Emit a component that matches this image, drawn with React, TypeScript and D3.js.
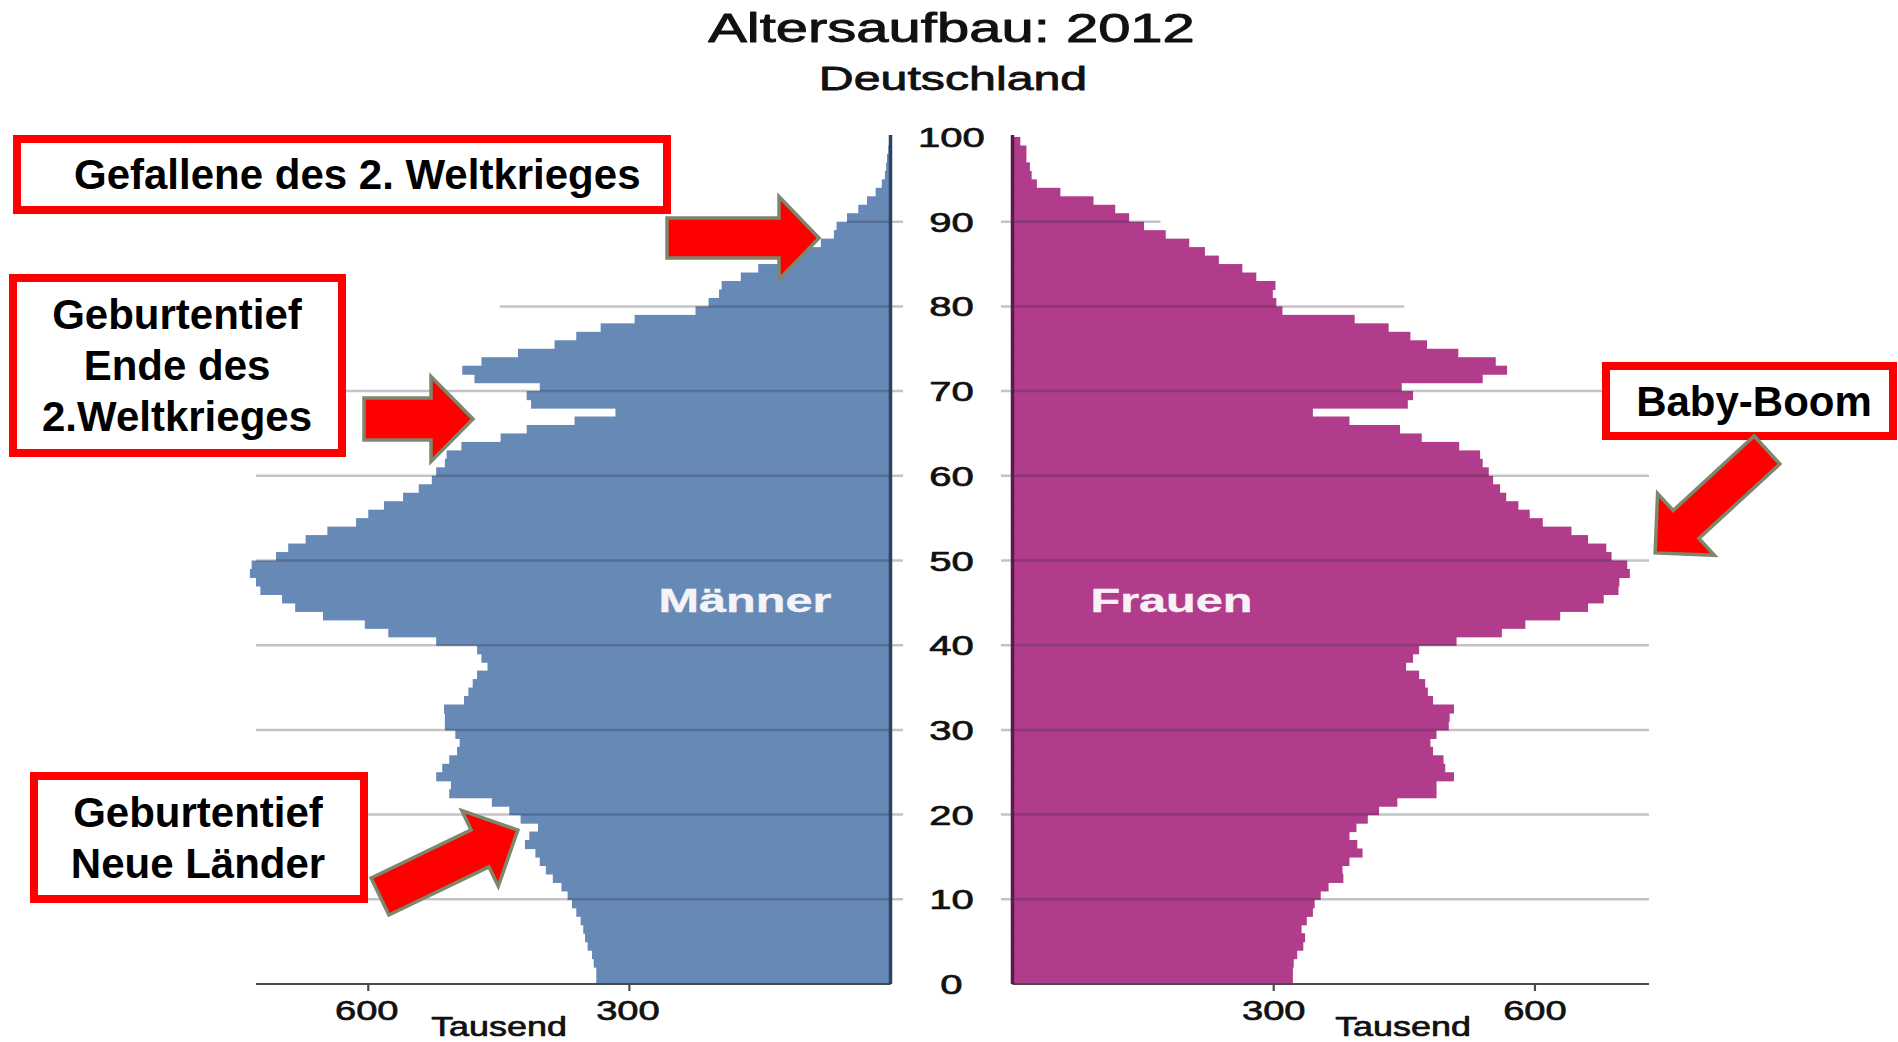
import React from 'react';
import * as d3 from 'd3';

// Altersaufbau 2012, Deutschland — Bevölkerung in Tausend nach Alter (0..99)
const AGES = d3.range(0, 100);
const MALE = [
  338, 338, 341, 343, 348, 351, 353, 356, 361, 366,
  371, 378, 388, 396, 403, 408, 420, 415, 405, 425,
  438, 458, 507, 505, 522, 515, 507, 498, 495, 500,
  512, 512, 513, 490, 485, 480, 475, 463, 470, 475,
  522, 577, 604, 652, 684, 699, 724, 729, 736, 734,
  706, 692, 672, 647, 614, 600, 582, 560, 542, 527,
  522, 512, 510, 493, 448, 418, 363, 316, 413, 418,
  403, 478, 492, 470, 428, 386, 361, 333, 294, 224,
  209, 197, 194, 172, 152, 129, 100, 80, 65, 62,
  50, 37, 27, 17, 10, 6.5, 5, 4, 2.5, 1.5,
];
const FEMALE = [
  322, 322, 323, 327, 334, 336, 332, 338, 345, 347,
  354, 363, 380, 379, 387, 402, 396, 387, 395, 408,
  421, 442, 487, 487, 507, 497, 495, 483, 480, 487,
  501, 502, 507, 483, 477, 474, 467, 452, 460, 467,
  510, 562, 589, 629, 661, 679, 696, 697, 709, 706,
  688, 682, 661, 642, 609, 594, 581, 567, 560, 552,
  547, 540, 537, 513, 470, 445, 387, 345, 454, 460,
  447, 540, 568, 555, 512, 476, 457, 432, 393, 310,
  303, 299, 302, 280, 264, 237, 221, 203, 176, 151,
  134, 118, 93, 55, 28, 22, 20, 16, 16, 9,
];
const AGE_LABELS = [0, 10, 20, 30, 40, 50, 60, 70, 80, 90, 100];
const VALUE_TICKS = [300, 600];
const GRID_AGES = [10, 20, 30, 40, 50, 60, 70, 80, 90];
const GRID_LEFT_EXTENT = [729, 729, 729, 729, 729, 729, 729, 449, 50];
const GRID_RIGHT_EXTENT = [731, 731, 731, 731, 731, 731, 731, 450, 170];

const TITLE = 'Altersaufbau: 2012';
const SUBTITLE = 'Deutschland';
const UNIT = 'Tausend';
const MALE_LABEL = 'Männer';
const FEMALE_LABEL = 'Frauen';

const W = 1898;
const H = 1042;
const BLUE = '#6689b6';
const PURPLE = '#b03c8b';
const FONT = '"Liberation Sans", Arial, Helvetica, sans-serif';

function arrowPath(len: number, shaftHalf: number, headHalf: number, headLen: number) {
  const b = len - headLen;
  return `M0,${-shaftHalf}L${b},${-shaftHalf}L${b},${-headHalf}L${len},0L${b},${headHalf}L${b},${shaftHalf}L0,${shaftHalf}Z`;
}

const ARROWS = [
  { x: 667, y: 238, angle: 0, len: 152, shaft: 20, head: 41.5, headLen: 40 },
  { x: 364, y: 419, angle: 0, len: 109, shaft: 21, head: 42.5, headLen: 42 },
  { x: 380, y: 896.5, angle: -25.7, len: 153, shaft: 20.5, head: 42, headLen: 42 },
  { x: 1767, y: 450, angle: 137.4, len: 152, shaft: 19, head: 42, headLen: 42 },
];

const BOXES = [
  { x: 13, y: 135, w: 658, h: 79, lines: ['Gefallene des 2. Weltkrieges'], tx: 74, anchor: 'start', baselines: [189] },
  { x: 9, y: 274, w: 337, h: 183, lines: ['Geburtentief', 'Ende des', '2.Weltkrieges'], tx: 177, anchor: 'middle', baselines: [329, 380, 431] },
  { x: 30, y: 772, w: 338, h: 131, lines: ['Geburtentief', 'Neue Länder'], tx: 198, anchor: 'middle', baselines: [827, 878] },
  { x: 1602, y: 362, w: 295, h: 78, lines: ['Baby-Boom'], tx: 1754, anchor: 'middle', baselines: [416] },
];

function SText({ x, y, sx, size, weight, fill, sw }: any) {
  return null;
}

function StretchText({ x, y, sx, size, weight, fill, sw, children }: any) {
  const f = fill || '#111';
  return (
    <text
      transform={`translate(${x},${y}) scale(${sx},1)`}
      textAnchor="middle"
      fontFamily={FONT}
      fontSize={size}
      fontWeight={weight || 'normal'}
      fill={f}
      stroke={f}
      strokeWidth={sw === undefined ? 0.7 : sw}
      strokeLinejoin="round"
    >
      {children}
    </text>
  );
}

export default function App() {
  const y = d3.scaleLinear().domain([0, 100]).range([984, 137]);
  const xL = d3.scaleLinear().domain([0, 729]).range([890.5, 256]);
  const xR = d3.scaleLinear().domain([0, 731]).range([1012.5, 1649]);

  const SW = 8; // box stroke
  return (
    <svg
      width={W}
      height={H}
      viewBox={`0 0 ${W} ${H}`}
      style={{ position: 'absolute', left: 0, top: 0, background: '#fff' }}
    >
      <rect x={0} y={0} width={W} height={H} fill="#fff" />

      {/* Titles */}
      <StretchText x={951.5} y={42} sx={1.45} size={40} sw={0.9}>{TITLE}</StretchText>
      <StretchText x={953} y={90} sx={1.42} size={34} sw={0.8}>{SUBTITLE}</StretchText>

      {/* Bars */}
      <g>
        {AGES.map((a, i) => (
          <rect
            key={'m' + a}
            x={xL(MALE[i])}
            y={y(a + 1)}
            width={xL(0) - xL(MALE[i])}
            height={y(a) - y(a + 1) + 0.6}
            fill={BLUE}
          />
        ))}
        {AGES.map((a, i) => (
          <rect
            key={'f' + a}
            x={xR(0)}
            y={y(a + 1)}
            width={xR(FEMALE[i]) - xR(0)}
            height={y(a) - y(a + 1) + 0.6}
            fill={PURPLE}
          />
        ))}
      </g>

      {/* Gridlines (over bars, translucent) */}
      <g stroke="#2a2a3a" strokeOpacity={0.28} strokeWidth={2.5}>
        {GRID_AGES.map((a, i) => (
          <g key={'g' + a}>
            <line x1={xL(GRID_LEFT_EXTENT[i])} x2={903} y1={y(a)} y2={y(a)} />
            <line x1={1001} x2={xR(GRID_RIGHT_EXTENT[i])} y1={y(a)} y2={y(a)} />
          </g>
        ))}
      </g>

      {/* Bottom axes */}
      <g stroke="#4a4a4a" strokeWidth={2.2}>
        <line x1={xL(729)} x2={xL(0)} y1={y(0)} y2={y(0)} />
        <line x1={xR(0)} x2={xR(731)} y1={y(0)} y2={y(0)} />
        {VALUE_TICKS.map((t) => (
          <g key={'t' + t}>
            <line x1={xL(t)} x2={xL(t)} y1={y(0)} y2={y(0) + 7} />
            <line x1={xR(t)} x2={xR(t)} y1={y(0)} y2={y(0) + 7} />
          </g>
        ))}
      </g>

      {/* Vertical axis lines */}
      <line x1={xL(0)} x2={xL(0)} y1={135} y2={y(0)} stroke="#2c4364" strokeWidth={3.5} />
      <line x1={xR(0)} x2={xR(0)} y1={135} y2={y(0)} stroke="#5c1a4a" strokeWidth={3.5} />

      {/* Age labels */}
      {AGE_LABELS.map((a) => (
        <StretchText key={'a' + a} x={951.5} y={y(a) + 10} sx={1.43} size={28}>
          {a}
        </StretchText>
      ))}

      {/* Value tick labels */}
      {VALUE_TICKS.map((t) => (
        <g key={'vl' + t}>
          <StretchText x={xL(t) - 1.5} y={1020} sx={1.36} size={28}>{t}</StretchText>
          <StretchText x={xR(t)} y={1020} sx={1.36} size={28}>{t}</StretchText>
        </g>
      ))}
      <StretchText x={499} y={1036} sx={1.33} size={27}>{UNIT}</StretchText>
      <StretchText x={1403} y={1036} sx={1.33} size={27}>{UNIT}</StretchText>

      {/* Sex labels */}
      <StretchText x={745} y={612} sx={1.43} size={34} weight="bold" fill="#f4f4f8" sw={0.4}>{MALE_LABEL}</StretchText>
      <StretchText x={1171.5} y={612} sx={1.43} size={34} weight="bold" fill="#f8f2f6" sw={0.4}>{FEMALE_LABEL}</StretchText>

      {/* Annotation boxes */}
      {BOXES.map((b, i) => (
        <g key={'b' + i}>
          <rect
            x={b.x + SW / 2}
            y={b.y + SW / 2}
            width={b.w - SW}
            height={b.h - SW}
            fill="#fff"
            stroke="#ff0000"
            strokeWidth={SW}
          />
          {b.lines.map((l, j) => (
            <text
              key={j}
              x={b.tx}
              y={b.baselines[j]}
              textAnchor={b.anchor as any}
              fontFamily={FONT}
              fontWeight="bold"
              fontSize={42}
              fill="#000"
            >
              {l}
            </text>
          ))}
        </g>
      ))}

      {/* Arrows */}
      {ARROWS.map((a, i) => (
        <path
          key={'ar' + i}
          d={arrowPath(a.len, a.shaft, a.head, a.headLen)}
          transform={`translate(${a.x},${a.y}) rotate(${a.angle})`}
          fill="#ff0000"
          stroke="#7d876c"
          strokeWidth={3.5}
          strokeLinejoin="miter"
        />
      ))}
    </svg>
  );
}
